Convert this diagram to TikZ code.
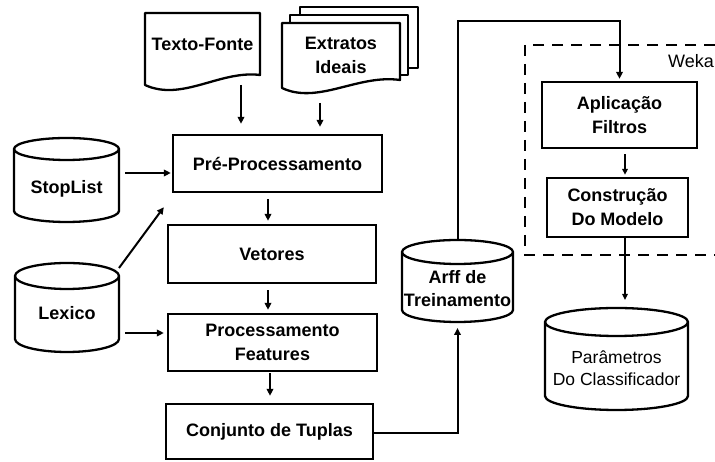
\documentclass[tikz,border=0pt]{standalone}
\usepackage{fontspec}
\setmainfont{Liberation Sans}
\usetikzlibrary{arrows.meta,calc}

\tikzset{
  stage/.style={draw, line width=2.3pt, inner sep=2pt, align=center,
    font=\bfseries\fontsize{18}{24}\selectfont},
  area/.style={inner sep=0pt, outer sep=0pt, align=center,
    font=\bfseries\fontsize{18}{24}\selectfont},
  caption/.style={align=center, inner sep=0pt,
    font=\bfseries\fontsize{18}{23}\selectfont},
  plaincaption/.style={align=center, inner sep=0pt,
    font=\fontsize{17.5}{22}\selectfont},
  outline/.style={line width=2.3pt, line join=round},
  flow/.style={line width=2pt, -{Triangle[length=7pt,width=6.5pt]}},
  thinflow/.style={line width=1.5pt, -{Triangle[length=6pt,width=5.5pt]}},
  group/.style={line width=2.6pt, dash pattern=on 11pt off 8pt},
}

% database drum drawn over the extent of a named node; #2 = half height of the lid
\newcommand\storagedrum[2]{%
  \draw[outline] let \p1=(#1.north west), \p2=(#1.south east),
      \n1={(\x2-\x1)/2}, \n2={0.5523*#2} in
    (\x1,\y1-#2) -- (\x1,\y2+#2)
    .. controls (\x1,\y2+#2-\n2) and (\x1+\n1-0.5523*\n1,\y2) .. (\x1+\n1,\y2)
    .. controls (\x1+\n1+0.5523*\n1,\y2) and (\x2,\y2+#2-\n2) .. (\x2,\y2+#2)
    -- (\x2,\y1-#2)
    (\x1+\n1,\y1-#2) ellipse [x radius={\n1*1pt}, y radius={#2*1pt}];
}

\begin{document}
\begin{tikzpicture}[x=1pt,y=1pt]
\useasboundingbox (0,0) rectangle (715,462);
\fill[white] (0,0) rectangle (715,462);

% Weka group
\draw[group] (715,417) -- (525,417) -- (525,207) -- (715,207);
\node[anchor=west, inner sep=0pt, font=\fontsize{18}{20}\selectfont] (weka) at (668,401) {Weka};

% source documents
\draw[outline, fill=white] (300,455) rectangle (418,394);
\draw[outline, fill=white] (290,447) rectangle (408,387);
\draw[outline, fill=white] (282,439) -- (282,374)
  .. controls (318,357) and (358,388) .. (400,382) -- (400,439) -- cycle;
\draw[outline, fill=white] (145,449) -- (145,377)
  .. controls (182,360) and (220,392) .. (260,387) -- (260,449) -- cycle;
\node[area, minimum width=115pt, minimum height=62pt] (tf) at (202.5,418) {Texto-Fonte};
\node[area, minimum width=118pt, minimum height=64pt] (ex) at (341,407) {Extratos\\Ideais};

% processing stages
\node[stage, minimum width=209pt, minimum height=57pt] (pre) at (277.5,298.5) {Pré-Processamento};
\node[stage, minimum width=208pt, minimum height=58pt] (vet) at (272,208) {Vetores};
\node[stage, minimum width=209pt, minimum height=57pt] (proc) at (272.5,119.5) {Processamento\\Features};
\node[stage, minimum width=207pt, minimum height=55pt] (conj) at (269.5,30.5) {Conjunto de Tuplas};
\node[stage, minimum width=155pt, minimum height=66pt] (apl) at (619.5,347) {Aplicação\\Filtros};
\node[stage, minimum width=141pt, minimum height=59pt] (con) at (617.5,254.5) {Construção\\Do Modelo};

% data stores
\node[area, minimum width=105pt, minimum height=84pt] (stop) at (66.5,282) {};
\storagedrum{stop}{11}
\node[caption] (stop-text) at ($(stop.center)+(0,-9)$) {StopList};

\node[area, minimum width=104pt, minimum height=89pt] (lex) at (67,154.5) {};
\storagedrum{lex}{13}
\node[caption] (lex-text) at ($(lex.center)+(0,-5.5)$) {Lexico};

\node[area, minimum width=111pt, minimum height=82pt] (arff) at (457.5,181) {};
\storagedrum{arff}{12}
\node[caption] (arff-text) at ($(arff.center)+(0,-7.5)$) {Arff de\\Treinamento};

\node[area, minimum width=143pt, minimum height=102pt] (par) at (616.5,103) {};
\storagedrum{par}{14}
\node[plaincaption] (par-text) at ($(par.center)+(0,-9)$) {Parâmetros\\Do Classificador};

% connectors
\draw[flow] ($(tf.south)+(38.5,-10)$) -- ($(pre.north)+(-36.5,10)$);
\draw[flow] ($(ex.south)+(-21,-16)$) -- ($(pre.north)+(42.5,7)$);
\draw[flow] ($(stop.east)+(6,7)$) -- ($(pre.west)+(-1,-9.5)$);
\draw[flow] ($(lex.north east)+(0,-5)$) -- ($(pre.south west)+(-8,-14)$);
\draw[flow] ($(pre.south)+(-9.5,-6)$) -- ($(vet.north)+(-4,3)$);
\draw[flow] ($(vet.south)+(-4,-6)$) -- ($(proc.north)+(-4.5,3)$);
\draw[flow] ($(lex.east)+(6,-25.5)$) -- ($(proc.west)+(-3,9.5)$);
\draw[flow] ($(proc.south)+(-2.5,-1)$) -- ($(conj.north)+(0.5,7)$);
\draw[flow] ($(conj.east)+(0,-1.5)$) -| ($(arff.south)+(0,-6)$);
\draw[flow] (arff.north) |- ($(apl.north)+(0,60)$) -- ($(apl.north)+(0,2)$);
\draw[thinflow] ($(apl.south)+(5.5,-5)$) -- ($(con.north)+(7.5,2)$);
\draw[thinflow] ($(con.south)+(7.5,0)$) -- ($(par.north)+(8.5,8)$);
\end{tikzpicture}
\end{document}
